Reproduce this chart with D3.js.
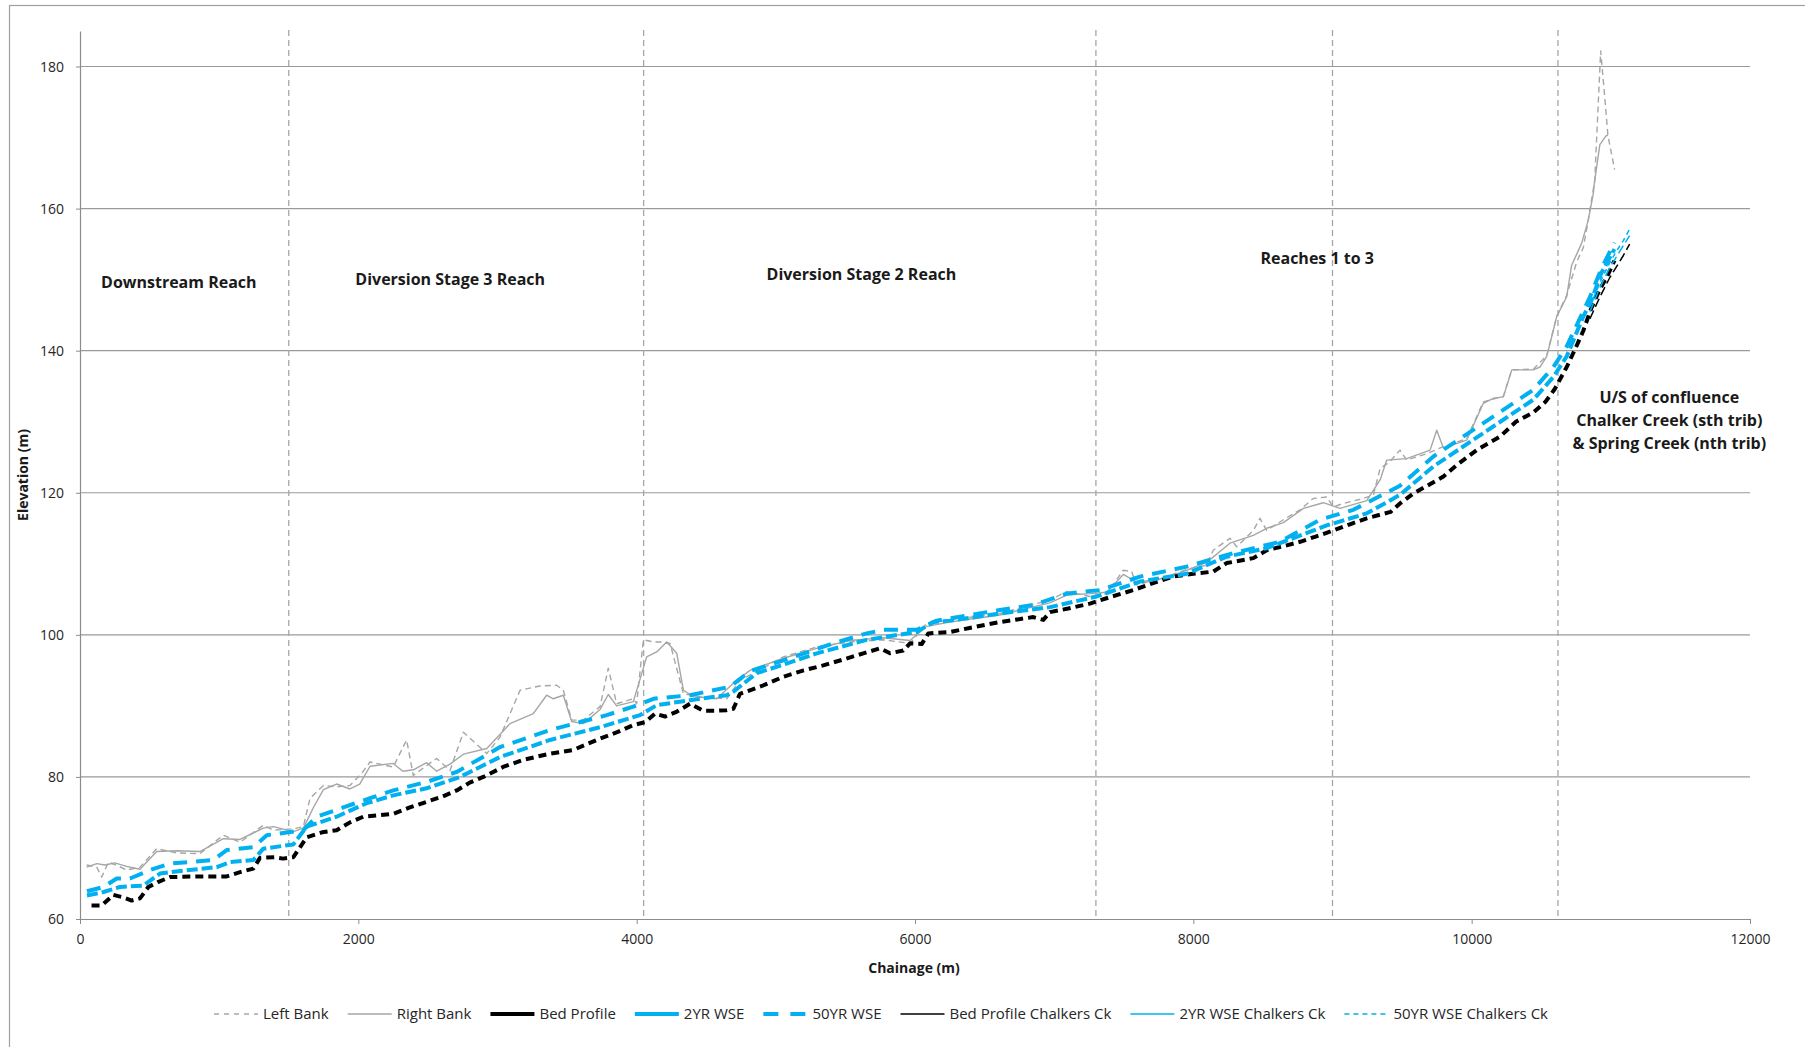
<!DOCTYPE html>
<html>
<head>
<meta charset="utf-8">
<script src="https://cdn.jsdelivr.net/npm/d3@7"></script>
<style>
  body { margin: 0; background: #fff; }
  svg { display: block; font-family: "Open Sans", sans-serif; }
  .axis path, .axis line { stroke: #8c8c8c; }
  .axis text { fill: #262626; font-size: 14px; font-family: "Open Sans", sans-serif; }
  .reach { font-weight: bold; font-size: 16px; fill: #1a1a1a; text-anchor: middle; }
  .title { font-weight: bold; font-size: 14px; fill: #1a1a1a; text-anchor: middle; }
  .legendText { font-size: 15px; fill: #262626; }
</style>
</head>
<body>
<div id="chart"></div>
<script>
// Series: [chainage (m), elevation (m)]
var leftBank = [[48,67.6],[120,67.3],[156,65.9],[204,68.0],[270,67.5],[335,66.9],[431,67.3],[551,69.9],[695,69.3],[862,69.2],[1030,71.8],[1150,70.8],[1317,73.2],[1389,72.5],[1533,72.7],[1605,73.0],[1653,77.0],[1749,78.8],[1844,78.6],[1940,78.8],[2024,80.5],[2084,82.1],[2251,81.4],[2347,85.2],[2395,80.2],[2491,81.6],[2563,82.6],[2659,80.9],[2755,86.3],[2923,83.3],[3018,85.6],[3162,92.2],[3305,92.8],[3425,92.9],[3473,92.2],[3533,88.0],[3617,88.0],[3737,89.9],[3796,95.3],[3856,90.3],[3976,91.0],[4000,90.3],[4048,99.3],[4120,99.0],[4192,99.0],[4240,98.8],[4336,91.7],[4455,91.3],[4647,91.0],[4742,93.6],[4934,95.6],[5054,96.9],[5294,98.3],[5533,99.0],[5773,99.3],[5964,98.8],[6084,101.6],[6252,102.1],[6610,103.0],[6970,104.9],[7090,106.1],[7257,105.4],[7377,105.8],[7497,109.1],[7557,108.9],[7593,107.0],[7809,108.2],[7950,109.2],[8096,109.8],[8143,111.9],[8263,113.6],[8311,112.4],[8431,114.7],[8479,116.4],[8527,114.7],[8647,116.2],[8767,117.6],[8862,119.2],[8958,119.4],[9006,118.0],[9078,118.5],[9222,119.2],[9294,119.7],[9342,123.4],[9413,124.4],[9485,126.0],[9533,124.6],[9677,125.5],[9797,126.5],[9964,127.6],[10084,132.8],[10228,133.6],[10288,137.3],[10443,137.4],[10539,139.3],[10611,144.8],[10683,147.8],[10755,152.5],[10802,154.5],[10837,158.3],[10884,163.9],[10927,182.2],[10955,176.0],[10979,170.3],[11027,165.5]];

var rightBank = [[48,67.3],[120,67.8],[180,67.6],[250,67.9],[335,67.4],[431,67.0],[551,69.5],[695,69.6],[862,69.5],[1030,71.3],[1150,71.2],[1317,72.8],[1389,73.0],[1533,72.3],[1605,72.8],[1680,75.8],[1749,78.2],[1844,79.0],[1940,78.3],[2010,79.0],[2084,81.5],[2251,81.9],[2320,80.8],[2395,81.0],[2491,82.0],[2563,80.8],[2659,81.8],[2755,83.2],[2923,84.0],[3090,87.5],[3257,88.9],[3353,91.5],[3401,91.0],[3473,91.5],[3533,87.8],[3617,87.5],[3737,89.5],[3796,91.6],[3856,90.0],[3976,90.6],[4072,96.9],[4144,97.6],[4216,99.0],[4288,97.4],[4336,92.2],[4407,91.3],[4575,91.0],[4695,93.2],[4814,95.0],[5054,96.7],[5294,98.1],[5533,99.2],[5773,99.6],[5964,99.2],[6084,101.2],[6252,101.8],[6610,102.8],[6970,104.5],[7090,105.6],[7257,105.8],[7377,106.0],[7497,108.5],[7593,107.4],[7809,108.0],[8096,110.2],[8263,112.9],[8431,114.0],[8527,115.0],[8647,115.8],[8791,117.8],[8934,118.6],[9054,117.8],[9246,118.9],[9342,121.8],[9390,124.6],[9533,124.8],[9701,126.0],[9749,128.8],[9797,126.3],[9964,127.4],[10084,132.6],[10156,133.3],[10228,133.5],[10288,137.3],[10443,137.3],[10491,137.7],[10539,139.2],[10563,141.0],[10611,144.8],[10683,147.6],[10718,152.0],[10790,155.1],[10837,158.3],[10873,162.0],[10884,163.9],[10921,169.0],[10968,170.3],[10979,170.3]];

var bedProfile = [[83,61.9],[156,61.9],[240,63.4],[300,63.1],[371,62.6],[431,62.9],[491,64.5],[560,65.2],[647,65.9],[850,66.0],[1054,66.0],[1150,66.6],[1246,67.1],[1293,68.6],[1400,68.7],[1460,68.5],[1533,68.7],[1629,71.5],[1740,72.2],[1844,72.5],[1940,73.6],[2036,74.4],[2150,74.6],[2251,74.8],[2370,75.7],[2491,76.5],[2600,77.2],[2707,78.1],[2800,79.2],[2898,80.0],[3040,81.4],[3185,82.4],[3360,83.2],[3545,83.8],[3640,84.6],[3737,85.4],[3860,86.3],[3976,87.3],[4060,87.7],[4132,88.9],[4204,88.5],[4290,89.2],[4383,90.3],[4479,89.3],[4560,89.3],[4647,89.4],[4695,89.6],[4742,91.7],[4900,92.8],[5054,94.1],[5200,95.0],[5341,95.7],[5480,96.5],[5629,97.4],[5749,98.1],[5820,97.4],[5916,97.8],[5964,98.8],[6048,98.7],[6096,100.2],[6252,100.4],[6400,101.0],[6610,101.8],[6850,102.5],[6922,102.1],[6970,103.2],[7100,103.7],[7257,104.4],[7400,105.3],[7568,106.3],[7700,107.2],[7856,108.2],[8000,108.6],[8143,108.9],[8239,110.1],[8431,110.8],[8527,111.9],[8671,112.6],[8767,113.1],[8890,113.9],[9007,114.7],[9130,115.6],[9246,116.4],[9417,117.3],[9485,118.5],[9581,119.9],[9700,121.2],[9797,122.3],[9900,124.0],[10036,126.0],[10204,127.9],[10318,130.0],[10443,131.3],[10530,132.8],[10597,134.6],[10683,137.7],[10750,140.5],[10802,142.8],[10860,146.0],[10920,148.6],[10975,150.5],[11026,152.7]];

var wse2yr = [[50,63.3],[168,63.8],[287,64.5],[455,64.7],[575,66.4],[647,66.6],[982,67.3],[1078,68.0],[1246,68.3],[1317,69.9],[1533,70.5],[1629,73.0],[1844,74.4],[2060,76.3],[2251,77.4],[2491,78.4],[2731,80.0],[3018,82.8],[3377,85.2],[3737,87.0],[4024,88.7],[4144,90.1],[4383,90.8],[4647,91.5],[4695,92.0],[4862,94.6],[5054,95.8],[5294,97.4],[5653,99.3],[6012,100.4],[6132,101.8],[6252,102.0],[6610,103.0],[6970,103.9],[7305,105.4],[7617,107.5],[7952,108.6],[8239,111.0],[8527,112.2],[8958,115.4],[9246,117.1],[9485,119.7],[9725,123.7],[10084,128.4],[10443,133.1],[10587,136.3],[10683,139.2],[10802,144.8],[10861,147.1],[10931,150.9],[11026,154.3]];

var wse50yr = [[50,63.9],[168,64.5],[264,65.7],[359,65.7],[503,66.9],[647,67.8],[958,68.3],[1054,69.7],[1246,70.1],[1342,71.8],[1605,72.5],[1701,74.4],[1892,75.7],[2084,77.0],[2251,78.1],[2491,79.3],[2707,80.7],[3018,84.2],[3377,86.6],[3785,88.7],[3976,89.9],[4120,91.0],[4383,91.5],[4671,92.7],[4814,94.9],[5054,96.4],[5413,98.8],[5653,100.2],[5773,100.7],[6012,100.7],[6156,102.0],[6610,103.5],[6850,104.2],[7090,105.8],[7329,106.3],[7617,108.2],[7952,109.6],[8287,111.5],[8623,113.1],[8910,116.2],[9150,117.6],[9485,121.0],[9725,125.1],[10084,129.8],[10443,134.5],[10587,137.7],[10683,140.6],[10851,147.6],[10931,151.5],[11026,155.2]];

var bedChalkers = [[10850,144.5],[10920,147.5],[10990,150.2],[11040,151.8],[11090,153.4],[11135,155.0]];
var wse2yrChalkers = [[10850,145.5],[10920,148.8],[10990,151.6],[11040,153.2],[11090,154.8],[11135,156.2]];
var wse50yrChalkers = [[10850,146.2],[10920,149.5],[10990,152.3],[11040,154.0],[11090,155.5],[11135,157.1]];

// Reach boundaries (chainage) and labels (label anchor in data units)
var reachBounds = [1500, 4050, 7300, 9000, 10620];
var reachLabels = [
  { c: 710, e: 148.8, lines: ["Downstream Reach"] },
  { c: 2660, e: 149.2, lines: ["Diversion Stage 3 Reach"] },
  { c: 5615, e: 149.9, lines: ["Diversion Stage 2 Reach"] },
  { c: 8890, e: 152.2, lines: ["Reaches 1 to 3"] },
  { c: 11420, e: 132.6, lines: ["U/S of confluence", "Chalker Creek (sth trib)", "& Spring Creek (nth trib)"] }
];

var xTicks = [0, 2000, 4000, 6000, 8000, 10000, 12000];
var yTicks = [60, 80, 100, 120, 140, 160, 180];

var blue = "#00b0f0", grey = "#a6a6a6";

var series = [
  { name: "Left Bank", data: leftBank, color: grey, width: 1.4, dash: "6,4", legendDash: "5,5" },
  { name: "Right Bank", data: rightBank, color: grey, width: 1.4, dash: null, legendDash: null },
  { name: "Bed Profile", data: bedProfile, color: "#000", width: 4, dash: "8,5", legendDash: null },
  { name: "2YR WSE", data: wse2yr, color: blue, width: 4, dash: "11,4", legendDash: null },
  { name: "50YR WSE", data: wse50yr, color: blue, width: 4, dash: "14,9", legendDash: "15,12" },
  { name: "Bed Profile Chalkers Ck", data: bedChalkers, color: "#000", width: 1.5, dash: "9,4", legendDash: null },
  { name: "2YR WSE Chalkers Ck", data: wse2yrChalkers, color: blue, width: 1.5, dash: "9,4", legendDash: null },
  { name: "50YR WSE Chalkers Ck", data: wse50yrChalkers, color: blue, width: 1.5, dash: "5,4", legendDash: "5,4" }
];

var W = 1805, H = 1047;
var margin = { top: 31, left: 80 },
  width = 1670,
  height = 888;

var svg = d3.select("#chart").append("svg")
  .attr("width", W)
  .attr("height", H);

//Chart border
svg.append("rect")
  .attr("x", 9.5).attr("y", 5.5)
  .attr("width", W).attr("height", H)
  .attr("fill", "none")
  .attr("stroke", "#a0a0a0")
  .attr("stroke-width", 1.2);

var x = d3.scaleLinear().domain([0, 12000]).range([margin.left, margin.left + width]);
var y = d3.scaleLinear().domain([60, 185]).range([margin.top + height, margin.top]);

//Gridlines
svg.append("g").selectAll("line")
  .data(yTicks.slice(1))
  .enter().append("line")
  .attr("x1", x(0)).attr("x2", x(12000))
  .attr("y1", function(d) { return y(d); })
  .attr("y2", function(d) { return y(d); })
  .attr("stroke", "#9a9a9a")
  .attr("stroke-width", 1.2);

//Axes
var yAxis = svg.append("g")
  .attr("class", "axis")
  .attr("transform", "translate(" + x(0) + ",0)")
  .call(d3.axisLeft(y).tickValues(yTicks).tickFormat(d3.format("d")).tickSize(4).tickPadding(12).tickSizeOuter(0));
yAxis.select(".domain").attr("stroke-width", 1.2);

var xAxis = svg.append("g")
  .attr("class", "axis")
  .attr("transform", "translate(0," + y(60) + ")")
  .call(d3.axisBottom(x).tickValues(xTicks).tickFormat(d3.format("d")).tickSize(5).tickPadding(10).tickSizeOuter(0));
xAxis.select(".domain").attr("stroke-width", 1.2);

//Reach dividers
svg.append("g").selectAll("line")
  .data(reachBounds)
  .enter().append("line")
  .attr("x1", function(d) { return x(d); })
  .attr("x2", function(d) { return x(d); })
  .attr("y1", y(185) - 1)
  .attr("y2", y(60))
  .attr("stroke", grey)
  .attr("stroke-width", 1.3)
  .attr("stroke-dasharray", "6,4");

//Series lines
var line = d3.line()
  .x(function(d) { return x(d[0]); })
  .y(function(d) { return y(d[1]); });

svg.append("g").selectAll("path")
  .data(series)
  .enter().append("path")
  .attr("d", function(d) { return line(d.data); })
  .attr("fill", "none")
  .attr("stroke", function(d) { return d.color; })
  .attr("stroke-width", function(d) { return d.width; })
  .attr("stroke-dasharray", function(d) { return d.dash; })
  .attr("stroke-linejoin", "round");

//Reach labels
reachLabels.forEach(function(l) {
  var t = svg.append("text")
    .attr("class", "reach")
    .attr("x", x(l.c))
    .attr("y", y(l.e));
  l.lines.forEach(function(s, i) {
    t.append("tspan")
      .attr("x", x(l.c))
      .attr("dy", i ? 23 : 0)
      .text(s);
  });
});

//Axis titles
svg.append("text")
  .attr("class", "title")
  .attr("x", 914)
  .attr("y", 973)
  .text("Chainage (m)");

svg.append("text")
  .attr("class", "title")
  .attr("transform", "translate(28,475) rotate(-90)")
  .text("Elevation (m)");

//Legend
var legend = svg.append("g").attr("class", "legend");
var lx = 0;
series.forEach(function(s) {
  var g = legend.append("g").attr("transform", "translate(" + lx + ",0)");
  g.append("line")
    .attr("x1", 0).attr("x2", 44)
    .attr("y1", 0).attr("y2", 0)
    .attr("stroke", s.color)
    .attr("stroke-width", s.width)
    .attr("stroke-dasharray", s.legendDash);
  var t = g.append("text")
    .attr("class", "legendText")
    .attr("x", 49)
    .attr("y", 5)
    .text(s.name);
  lx += 49 + t.node().getComputedTextLength() + 19;
});
lx -= 19;
legend.attr("transform", "translate(" + (881 - lx / 2) + ",1014)");
</script>
</body>
</html>
